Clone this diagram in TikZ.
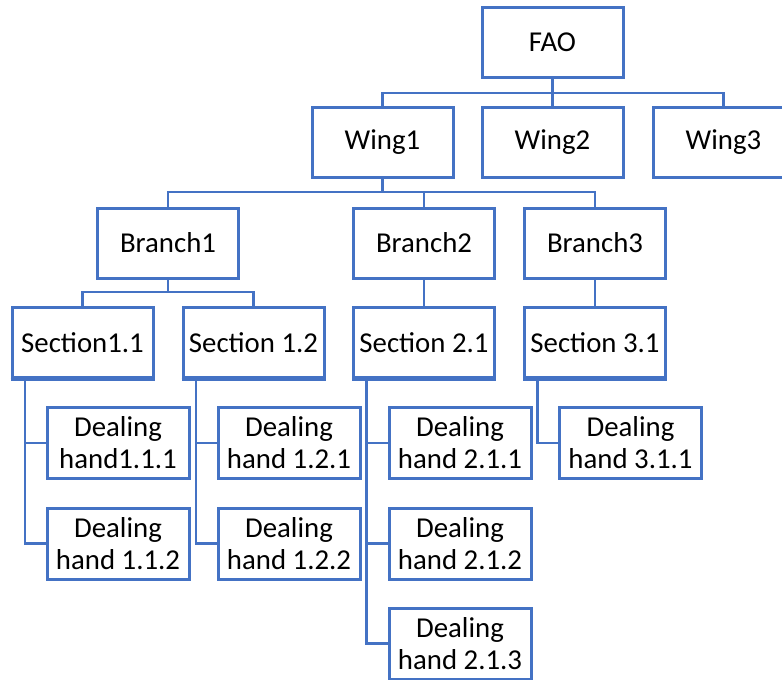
\documentclass[tikz,border=0pt]{standalone}
\usepackage{fontspec}
\setmainfont{Carlito}
\usetikzlibrary{calc}
\definecolor{orgblue}{HTML}{4472C4}
\tikzset{
  unit/.style={draw=orgblue, line width=3pt, fill=white, inner sep=0pt,
    minimum width=141pt, minimum height=70pt, align=center,
    font=\fontsize{28.8}{32}\selectfont},
  hand/.style={unit, minimum width=142pt, minimum height=71pt},
  link/.style={draw=orgblue, line width=2.4pt},
}
\begin{document}
\begin{tikzpicture}[x=1pt, y=-1pt]
\clip (0,0) rectangle (782,680);
\fill[white] (0,0) rectangle (782,680);

% junction points of the horizontal buses
\coordinate (busA) at (552.5,93);
\coordinate (busB) at (382.5,192);
\coordinate (busC) at (168,292);

% connectors (drawn first, boxes sit on top)
\begin{scope}[link]
\draw (552.5,42) -- (552.5,142);
\draw (382.5,142) |- (busA) -| (723.5,142);
\draw (382.5,142) -- (busB);
\draw (168,243) |- (busB) -| (595,243);
\draw (424,243) -- (424,192);
\draw (168,243) -- (busC);
\draw (82.5,342.5) |- (busC) -| (253.5,342.5);
\draw (424,243) -- (424,342.5);
\draw (595,243) -- (595,342.5);
\end{scope}

% top levels
\node[unit] (fao) at (552.5,42) {FAO};
\node[unit] (w1) at (382.5,142) {Wing1};
\node[unit] (w2) at (552.5,142) {Wing2};
\node[unit] (w3) at (723.5,142) {Wing3};
\node[unit] (b1) at (168,243) {Branch1};
\node[unit] (b2) at (424,243) {Branch2};
\node[unit] (b3) at (595,243) {Branch3};
\node[unit] (s11) at (82.5,342.5) {Section1.1};
\node[unit] (s12) at (253.5,342.5) {Section 1.2};
\node[unit] (s21) at (424,342.5) {Section 2.1};
\node[unit] (s31) at (595,342.5) {Section 3.1};

% dealing hands
\node[hand] (d111) at (118,443) {Dealing\\hand1.1.1};
\node[hand] (d112) at (118,543.5) {Dealing\\hand 1.1.2};
\node[hand] (d121) at (289,443) {Dealing\\hand 1.2.1};
\node[hand] (d122) at (289,543.5) {Dealing\\hand 1.2.2};
\node[hand] (d211) at (460,443) {Dealing\\hand 2.1.1};
\node[hand] (d212) at (460,543.5) {Dealing\\hand 2.1.2};
\node[hand] (d213) at (460,643.5) {Dealing\\hand 2.1.3};
\node[hand] (d311) at (630.5,443) {Dealing\\hand 3.1.1};

% spines from each section down to its dealing hands
\coordinate (sp11) at ($(s11.south west)+(14.5,0)$);
\coordinate (sp12) at ($(s12.south west)+(14.5,0)$);
\coordinate (sp21) at ($(s21.south west)+(14.5,0)$);
\coordinate (sp31) at ($(s31.south west)+(14.5,0)$);
\begin{scope}[link]
\draw (sp11) |- (d112.west);
\draw (sp11 |- d111.west) -- (d111.west);
\draw (sp12) |- (d122.west);
\draw (sp12 |- d121.west) -- (d121.west);
\draw (sp21) |- (d213.west);
\draw (sp21 |- d211.west) -- (d211.west);
\draw (sp21 |- d212.west) -- (d212.west);
\draw (sp31) |- (d311.west);
\end{scope}

% redraw section borders over spine tops
\foreach \s in {s11,s12,s21,s31}{
  \draw[orgblue, line width=3pt] (\s.south west) -- (\s.south east);
}
\end{tikzpicture}
\end{document}
